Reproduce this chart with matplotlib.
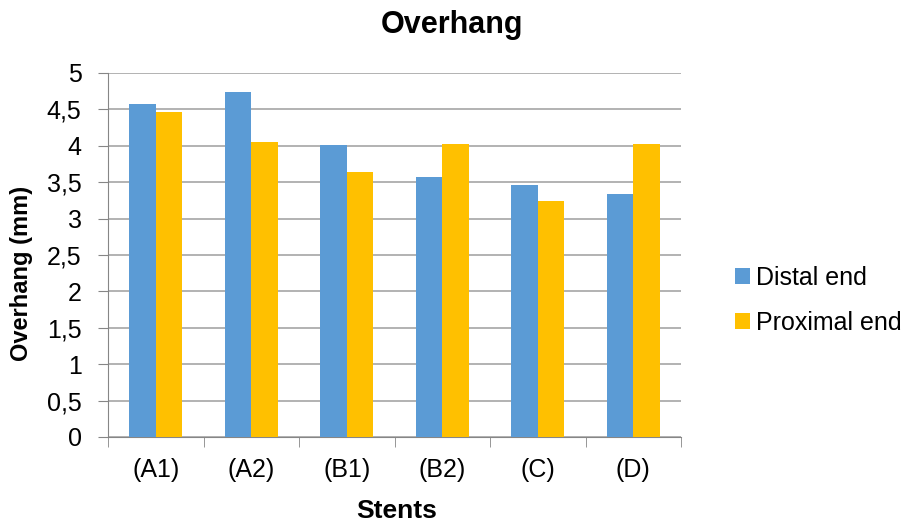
import numpy as np
import matplotlib.pyplot as plt
from matplotlib.ticker import FuncFormatter, FixedLocator

plt.rcParams['font.family'] = ['Liberation Sans', 'DejaVu Sans']

# data
stents = ['(A1)', '(A2)', '(B1)', '(B2)', '(C)', '(D)']
distal = [4.58, 4.74, 4.01, 3.57, 3.46, 3.34]
proximal = [4.47, 4.05, 3.64, 4.03, 3.24, 4.02]

W, H = 909, 524
fig = plt.figure(figsize=(W / 100, H / 100), dpi=100)
ax = fig.add_axes([108 / W, 1 - 437 / H, 573 / W, 364 / H])

x = np.arange(len(stents))
w = 0.28
ax.bar(x - w/2, distal, w, color='#5b9bd5', label='Distal end', zorder=3)
ax.bar(x + w/2, proximal, w, color='#ffc000', label='Proximal end', zorder=3)

ax.set_xlim(-0.5, len(stents) - 0.5)
ax.set_ylim(0, 5)
ax.set_yticks(np.arange(0, 5.01, 0.5))
ax.yaxis.set_major_formatter(FuncFormatter(lambda v, p: ('%g' % v).replace('.', ',')))
ax.set_xticks(x)
ax.set_xticklabels(stents)
ax.xaxis.set_minor_locator(FixedLocator(np.arange(-0.5, len(stents), 1)))
ax.tick_params(axis='x', which='major', length=0, pad=15, labelsize=18)
ax.tick_params(axis='x', which='minor', length=7, color='#868686')
ax.tick_params(axis='y', length=7, color='#868686', labelsize=18, pad=12)

ax.grid(axis='y', color='#a6a6a6', linewidth=1.2, zorder=0)
for s in ['top', 'right']:
    ax.spines[s].set_visible(False)
for s in ['left', 'bottom']:
    ax.spines[s].set_color('#868686')

# titles placed in figure pixels
fig.text(452 / W, 1 - 33 / H, 'Overhang', fontsize=22, fontweight='bold',
         ha='center', va='baseline')
fig.text(397 / W, 1 - 518 / H, 'Stents', fontsize=19, fontweight='bold',
         ha='center', va='baseline')
fig.text(22 / W, 1 - 273 / H, 'Overhang (mm)', fontsize=17, fontweight='bold',
         rotation=90, ha='center', va='center')

ax.legend(loc='center left', bbox_to_anchor=(712 / W, 1 - 300.5 / H),
          bbox_transform=fig.transFigure, frameon=False,
          fontsize=18, handlelength=0.6, handleheight=0.6, handletextpad=0.25,
          labelspacing=0.85)

fig.savefig('out.png', dpi=100)
